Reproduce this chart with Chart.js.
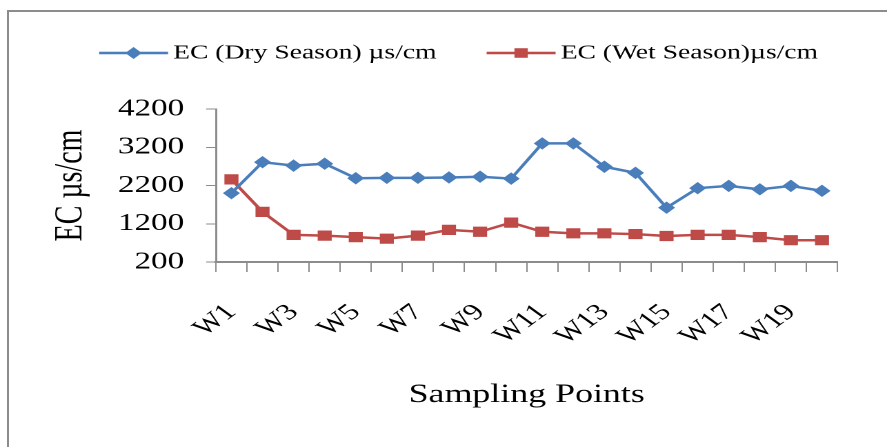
<!DOCTYPE html>
<html><head><meta charset="utf-8">
<script src="https://cdn.jsdelivr.net/npm/chart.js@4/dist/chart.umd.min.js"></script>
<style>
html,body{margin:0;padding:0;background:#fff;width:887px;height:447px;overflow:hidden;}
#frame{position:absolute;left:7px;top:10px;width:900px;height:460px;border-left:2px solid #8c8c8c;border-top:2px solid #8c8c8c;}
#wrap{position:absolute;left:0;top:0;width:643px;height:447px;transform:scaleX(1.3795);transform-origin:0 0;}
</style></head><body>
<div id="frame"></div>
<div id="wrap"><canvas id="c" width="643" height="447"></canvas></div>
<script>
const categories = ['W1','W2','W3','W4','W5','W6','W7','W8','W9','W10','W11','W12','W13','W14','W15','W16','W17','W18','W19','W20'];
const dryEC = [2000, 2810, 2720, 2770, 2390, 2400, 2400, 2410, 2430, 2380, 3300, 3300, 2690, 2530, 1620, 2130, 2190, 2100, 2190, 2060];
const wetEC = [2360, 1510, 910, 890, 850, 810, 890, 1040, 990, 1230, 990, 950, 950, 930, 880, 910, 910, 850, 770, 770];
const yTicks = [200, 1200, 2200, 3200, 4200];
const seriesNames = ['EC (Dry Season) µs/cm', 'EC (Wet Season)µs/cm'];
const xTitle = 'Sampling Points';
const yTitle = 'EC µs/cm';

const BLUE = '#4a7ebb', RED = '#be4b48', AXIS = '#8c8c8c';
const FONT = '"Liberation Serif", "Times New Roman", serif';

// legend icon: 80 wide image, line drawn in its right part so it ends just before the text
function makeMarker(color, shape){
  const s = 3, w = 80, h = 16, x0 = 29.3, x1 = 79.3, cx = (x0 + x1) / 2;
  const c = document.createElement('canvas'); c.width = w*s; c.height = h*s;
  const g = c.getContext('2d'); g.scale(s, s);
  g.strokeStyle = color; g.lineWidth = 2.5;
  g.beginPath(); g.moveTo(x0, h/2); g.lineTo(x1, h/2); g.stroke();
  g.fillStyle = color; g.beginPath();
  if (shape === 'diamond') {
    g.moveTo(cx-6, h/2); g.lineTo(cx, h/2-6); g.lineTo(cx+6, h/2); g.lineTo(cx, h/2+6);
  } else {
    g.rect(cx-4.8, h/2-4.8, 9.6, 9.6);
  }
  g.closePath(); g.fill();
  return new Promise(res => { const img = new Image(); img.onload = () => { img.width = w; img.height = h; res(img); }; img.src = c.toDataURL(); });
}

Promise.all([makeMarker(BLUE, 'diamond'), makeMarker(RED, 'square')]).then(([m1, m2]) => {
  new Chart(document.getElementById('c'), {
    type: 'line',
    data: {
      labels: categories,
      datasets: [
        {label: seriesNames[0], data: dryEC, borderColor: BLUE, backgroundColor: BLUE, borderWidth: 2.5,
         pointStyle: 'rectRot', pointRadius: 5.5, pointBorderWidth: 1, tension: 0},
        {label: seriesNames[1], data: wetEC, borderColor: RED, backgroundColor: RED, borderWidth: 2.5,
         pointStyle: 'rect', pointRadius: 6.5, pointBorderWidth: 1, tension: 0}
      ]
    },
    options: {
      responsive: false, animation: false, devicePixelRatio: 2,
      layout: {padding: {left: 35.5, right: 25.6, top: 29, bottom: 0}},
      plugins: {
        tooltip: {enabled: false},
        title: {display: true, text: '', position: 'top', weight: 500, font: {size: 12}, padding: {top: 10.8, bottom: 10.8}},
        legend: {
          display: true, position: 'top', align: 'start',
          labels: {
            font: {family: FONT, size: 20}, color: '#000', padding: 14,
            usePointStyle: true, pointStyleWidth: 66,
            generateLabels(chart) {
              const items = Chart.defaults.plugins.legend.labels.generateLabels(chart);
              items[0].pointStyle = m1; items[1].pointStyle = m2;
              return items;
            }
          }
        }
      },
      scales: {
        x: {
          offset: true,
          grid: {display: true, drawOnChartArea: false, drawTicks: true, tickLength: 10, color: AXIS, offset: true},
          border: {display: true, color: AXIS, width: 2},
          ticks: {autoSkip: false, minRotation: 45, maxRotation: 45, padding: 27, color: '#000',
                  font: {family: FONT, size: 23},
                  callback(v, i) { return i % 2 === 0 ? this.getLabelForValue(v) : ''; }},
          title: {display: true, text: xTitle, color: '#000', font: {family: FONT, size: 26}, padding: {top: 0, bottom: 36}},
          afterFit(s) { s.height = 185; }
        },
        y: {
          min: 200, max: 4200,
          afterBuildTicks(s) { s.ticks = yTicks.map(v => ({value: v})); },
          grid: {drawOnChartArea: false, tickLength: 7, color: AXIS},
          border: {color: AXIS, width: 1.5},
          ticks: {autoSkip: false, padding: 16, color: '#000', font: {family: FONT, size: 24},
                  callback(v) { return String(v); }},
          title: {display: true, text: yTitle, color: '#000', font: {family: FONT, size: 28, lineHeight: 0.36}, padding: {top: 11, bottom: 0}},
          afterFit(s) { s.width = 121; }
        }
      }
    }
  });
});
</script>
</body></html>
